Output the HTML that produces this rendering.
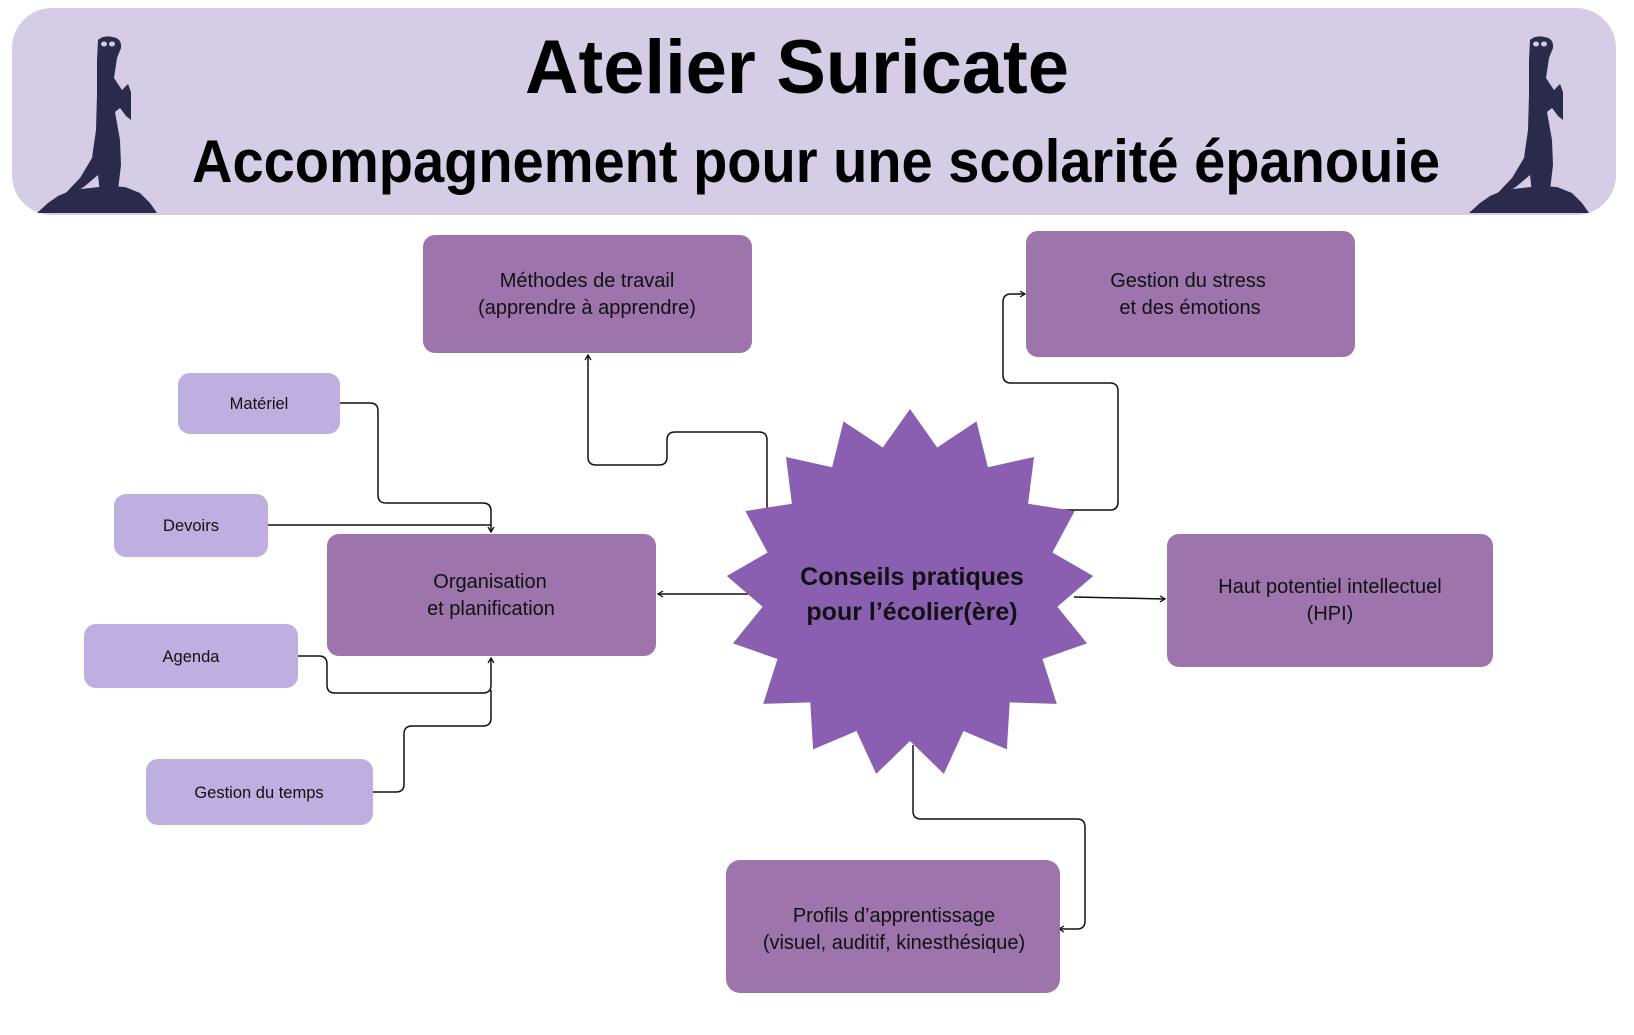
<!DOCTYPE html>
<html><head><meta charset="utf-8">
<style>
html,body{margin:0;padding:0;background:#fff;}
svg{display:block;}
text{font-family:"Liberation Sans",sans-serif;}
</style></head>
<body>
<svg id="s" width="1634" height="1035" viewBox="0 0 1634 1035" xmlns="http://www.w3.org/2000/svg">
<defs>
<marker id="a" markerWidth="8" markerHeight="8" refX="6" refY="4" orient="auto" markerUnits="userSpaceOnUse">
<path d="M1,1 L6,4 L1,7" fill="none" stroke="#111" stroke-width="1.3"/>
</marker>
<g id="mk">
<path fill="#2a2a4a" d="M37,213 L48,203 L58,196 L72,190 L90,188 L108,186 L125,187 L140,193 L150,203 L157,213 Z"/>
<path fill="#2a2a4a" d="M98,40 Q104,35 112,37 Q122,38 121,48 L117,58 L114,78 L122,90 L128,84 L131,92 L131,120 L126,116 L120,108 L115,112 L120,140 L121,165 L118,190 L100,193 L98,175 L85,186 L66,199 L60,199 L80,178 L92,158 L96,130 L97,95 L97,60 Z"/>
<ellipse cx="104" cy="44" rx="3" ry="2.5" fill="#d5cce6"/>
<ellipse cx="112" cy="44" rx="3" ry="2.5" fill="#d5cce6"/>
</g>
</defs>
<rect x="12" y="8" width="1604" height="207" rx="40" fill="#d5cce6"/>
<use href="#mk"/>
<use href="#mk" transform="translate(1432,0)"/>
<text x="797" y="93" font-size="76" font-weight="bold" text-anchor="middle" textLength="544" lengthAdjust="spacingAndGlyphs">Atelier Suricate</text>
<text x="816" y="182" font-size="60" font-weight="bold" text-anchor="middle" textLength="1248" lengthAdjust="spacingAndGlyphs">Accompagnement pour une scolarité épanouie</text>

<g fill="none" stroke="#111" stroke-width="1.5">
<path d="M767,510 V440 Q767,432 759,432 H675 Q667,432 667,440 V457 Q667,465 659,465 H596 Q588,465 588,457 V355" marker-end="url(#a)"/>
<path d="M1060,510 H1110 Q1118,510 1118,502 V391 Q1118,383 1110,383 H1011 Q1003,383 1003,375 V302 Q1003,294 1011,294 H1025" marker-end="url(#a)"/>
<path d="M748,594 H658" marker-end="url(#a)"/>
<path d="M1074,597 L1165,599" marker-end="url(#a)"/>
<path d="M913,745 V811 Q913,819 921,819 H1077 Q1085,819 1085,827 V921 Q1085,929 1077,929 H1059" marker-end="url(#a)"/>
<path d="M340,403 H370 Q378,403 378,411 V495 Q378,503 386,503 H483 Q491,503 491,511 V532" marker-end="url(#a)"/>
<path d="M268,525 H491"/>
<path d="M298,656 H319 Q327,656 327,664 V685 Q327,693 335,693 H483 Q491,693 491,685 V658" marker-end="url(#a)"/>
<path d="M373,792 H396 Q404,792 404,784 V734 Q404,726 412,726 H483 Q491,726 491,718 V690"/>
</g>

<polygon id="star" fill="#8a5fb2" points=""/>
<text x="912" y="585" font-size="25" font-weight="bold" text-anchor="middle" fill="#111">Conseils pratiques</text>
<text x="912" y="620" font-size="25" font-weight="bold" text-anchor="middle" fill="#111">pour l’écolier(ère)</text>

<g fill="#9d74ab">
<rect x="423" y="235" width="329" height="118" rx="12"/>
<rect x="1026" y="231" width="329" height="126" rx="12"/>
<rect x="327" y="534" width="329" height="122" rx="12"/>
<rect x="1167" y="534" width="326" height="133" rx="12"/>
<rect x="726" y="860" width="334" height="133" rx="14"/>
</g>
<g fill="#bfaee0">
<rect x="178" y="373" width="162" height="61" rx="12"/>
<rect x="114" y="494" width="154" height="63" rx="12"/>
<rect x="84" y="624" width="214" height="64" rx="12"/>
<rect x="146" y="759" width="227" height="66" rx="12"/>
</g>
<g font-size="20" text-anchor="middle" fill="#111">
<text x="587" y="287">Méthodes de travail</text>
<text x="587" y="314">(apprendre à apprendre)</text>
<text x="1188" y="287">Gestion du stress</text>
<text x="1190" y="314">et des émotions</text>
<text x="490" y="588">Organisation</text>
<text x="491" y="615">et planification</text>
<text x="1330" y="593">Haut potentiel intellectuel</text>
<text x="1330" y="620">(HPI)</text>
<text x="894" y="922">Profils d’apprentissage</text>
<text x="894" y="949">(visuel, auditif, kinesthésique)</text>
</g>
<g font-size="16.5" text-anchor="middle" fill="#111">
<text x="259" y="409">Matériel</text>
<text x="191" y="531">Devoirs</text>
<text x="191" y="662">Agenda</text>
<text x="259" y="798">Gestion du temps</text>
</g>
</svg>
<script>
var cx=910,cy=593,R=184,r=148,n=17,p=[];
for(var i=0;i<n*2;i++){var ang=-Math.PI/2+i*Math.PI/n;var rr=i%2?r:R;p.push((cx+rr*Math.cos(ang)).toFixed(1)+","+(cy+rr*Math.sin(ang)).toFixed(1));}
document.getElementById("star").setAttribute("points",p.join(" "));
</script>
</body></html>
